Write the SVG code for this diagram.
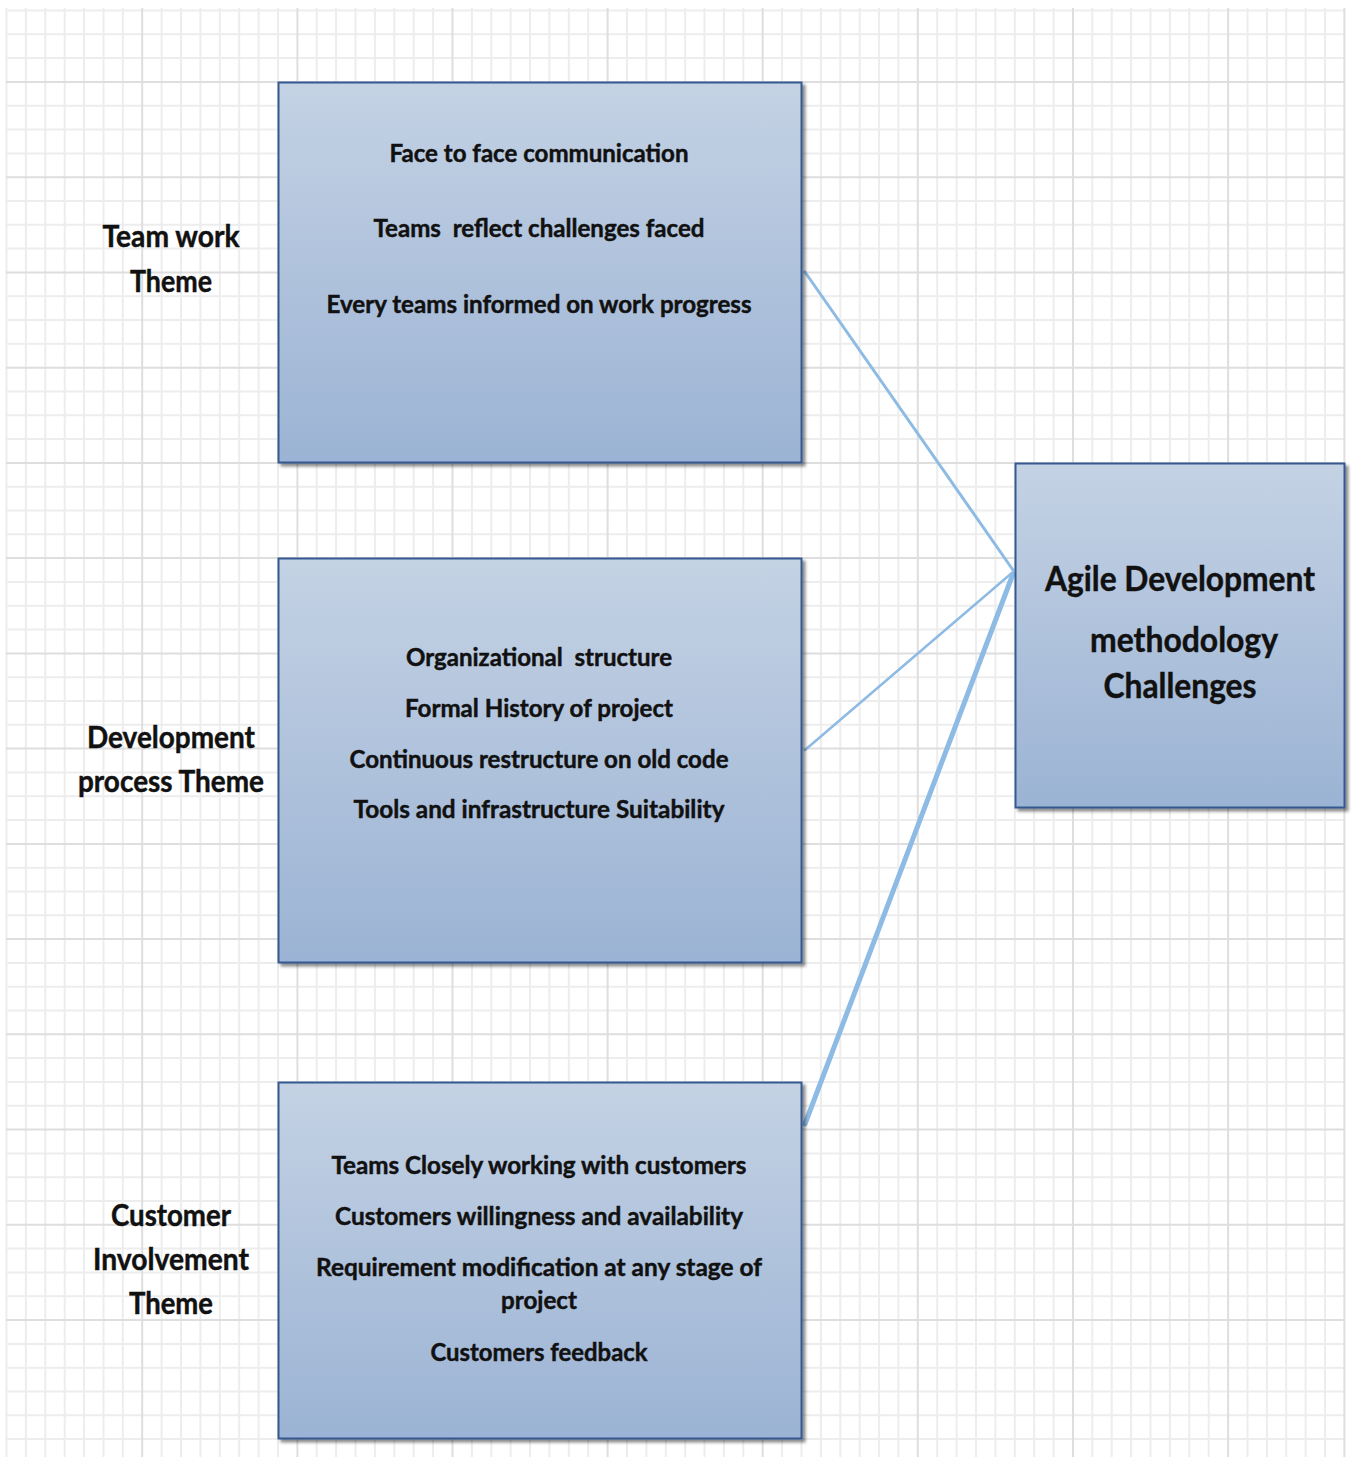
<svg xmlns="http://www.w3.org/2000/svg" width="1352" height="1457" viewBox="0 0 1352 1457">
<defs>
<linearGradient id="boxfill" x1="0" y1="0" x2="0" y2="1">
<stop offset="0" stop-color="#c4d2e4"/>
<stop offset="1" stop-color="#9bb3d4"/>
</linearGradient>
<filter id="shadow" x="-5%" y="-5%" width="115%" height="115%">
<feDropShadow dx="3" dy="3" stdDeviation="1.5" flood-color="#000" flood-opacity="0.45"/>
</filter>
</defs>
<style>
.minor{stroke:#ededed;stroke-width:2;fill:none}
.major{stroke:#dedede;stroke-width:2;fill:none}
.box{fill:url(#boxfill);stroke:#34598f;stroke-width:2;filter:url(#shadow)}
.conn{stroke:#8ebbe4;fill:none;stroke-linecap:round}
text{font-family:Lato,"Liberation Sans",sans-serif;font-weight:bold;fill:#111;stroke:#111;stroke-width:0.45;text-anchor:middle}
.t{font-size:24px}
.lbl{font-size:30px}
.big{font-size:35px}
</style>
<rect width="1352" height="1457" fill="#fff"/>
<g id="grid">
<path class="minor" d="M6.5 8V1457M25.9 8V1457M45.3 8V1457M64.7 8V1457M84.1 8V1457M103.5 8V1457M122.8 8V1457M161.6 8V1457M181 8V1457M200.4 8V1457M219.8 8V1457M239.2 8V1457M258.6 8V1457M278 8V1457M316.7 8V1457M336.1 8V1457M355.5 8V1457M374.9 8V1457M394.3 8V1457M413.7 8V1457M433.1 8V1457M471.9 8V1457M491.3 8V1457M510.6 8V1457M530 8V1457M549.4 8V1457M568.8 8V1457M588.2 8V1457M627 8V1457M646.4 8V1457M665.8 8V1457M685.2 8V1457M704.5 8V1457M723.9 8V1457M743.3 8V1457M782.1 8V1457M801.5 8V1457M820.9 8V1457M840.3 8V1457M859.7 8V1457M879.1 8V1457M898.4 8V1457M937.2 8V1457M956.6 8V1457M976 8V1457M995.4 8V1457M1014.8 8V1457M1034.2 8V1457M1053.6 8V1457M1092.3 8V1457M1111.7 8V1457M1131.1 8V1457M1150.5 8V1457M1169.9 8V1457M1189.3 8V1457M1208.7 8V1457M1247.5 8V1457M1266.9 8V1457M1286.2 8V1457M1305.6 8V1457M1325 8V1457"/>
<path class="minor" d="M6 10.5H1345M6 34.3H1345M6 58.1H1345M6 105.7H1345M6 129.6H1345M6 153.4H1345M6 201H1345M6 224.8H1345M6 248.6H1345M6 296.2H1345M6 320H1345M6 343.8H1345M6 391.5H1345M6 415.3H1345M6 439.1H1345M6 486.7H1345M6 510.5H1345M6 534.3H1345M6 581.9H1345M6 605.8H1345M6 629.6H1345M6 677.2H1345M6 701H1345M6 724.8H1345M6 772.4H1345M6 796.2H1345M6 820H1345M6 867.7H1345M6 891.5H1345M6 915.3H1345M6 962.9H1345M6 986.7H1345M6 1010.5H1345M6 1058.1H1345M6 1082H1345M6 1105.8H1345M6 1153.4H1345M6 1177.2H1345M6 1201H1345M6 1248.6H1345M6 1272.4H1345M6 1296.2H1345M6 1343.9H1345M6 1367.7H1345M6 1391.5H1345M6 1415.3H1345M6 1439.1H1345"/>
<path class="major" d="M142.2 8V1457M297.4 8V1457M452.5 8V1457M607.6 8V1457M762.7 8V1457M917.8 8V1457M1073 8V1457M1228.1 8V1457M1344.4 8V1457M6 81.9H1345M6 177.2H1345M6 272.4H1345M6 367.7H1345M6 462.9H1345M6 558.1H1345M6 653.4H1345M6 748.6H1345M6 843.9H1345M6 939.1H1345M6 1034.3H1345M6 1129.6H1345M6 1224.8H1345M6 1320.1H1345"/>
</g>
<g id="connectors">
<path class="conn" stroke-width="3" d="M805 272L1013 570"/>
<path class="conn" stroke-width="2.5" d="M805 750L1013 572"/>
<path class="conn" stroke-width="5" d="M805 1124L1013 574"/>
</g>
<g id="team-work-label">
<text class="lbl" x="171" y="247" textLength="137" lengthAdjust="spacingAndGlyphs">Team work</text>
<text class="lbl" x="171" y="292" textLength="82" lengthAdjust="spacingAndGlyphs">Theme</text>
</g>
<g id="team-work-box">
<rect class="box" x="278.5" y="82.5" width="523" height="380"/>
<text class="t" x="539" y="162" textLength="299" lengthAdjust="spacingAndGlyphs">Face to face communication</text>
<text class="t" x="539" y="237" textLength="331" lengthAdjust="spacingAndGlyphs">Teams&#160; reflect challenges faced</text>
<text class="t" x="539" y="313" textLength="425" lengthAdjust="spacingAndGlyphs">Every teams informed on work progress</text>
</g>
<g id="development-label">
<text class="lbl" x="171" y="748" textLength="168" lengthAdjust="spacingAndGlyphs">Development</text>
<text class="lbl" x="171" y="792" textLength="186" lengthAdjust="spacingAndGlyphs">process Theme</text>
</g>
<g id="development-box">
<rect class="box" x="278.5" y="558.5" width="523" height="404"/>
<text class="t" x="539" y="666" textLength="266" lengthAdjust="spacingAndGlyphs">Organizational&#160; structure</text>
<text class="t" x="539" y="717" textLength="268" lengthAdjust="spacingAndGlyphs">Formal History of project</text>
<text class="t" x="539" y="768" textLength="379" lengthAdjust="spacingAndGlyphs">Continuous restructure on old code</text>
<text class="t" x="539" y="818" textLength="371" lengthAdjust="spacingAndGlyphs">Tools and infrastructure Suitability</text>
</g>
<g id="customer-label">
<text class="lbl" x="171" y="1226" textLength="120" lengthAdjust="spacingAndGlyphs">Customer</text>
<text class="lbl" x="171" y="1270" textLength="156" lengthAdjust="spacingAndGlyphs">Involvement</text>
<text class="lbl" x="171" y="1314" textLength="84" lengthAdjust="spacingAndGlyphs">Theme</text>
</g>
<g id="customer-box">
<rect class="box" x="278.5" y="1082.5" width="523" height="356"/>
<text class="t" x="539" y="1174" textLength="415" lengthAdjust="spacingAndGlyphs">Teams Closely working with customers</text>
<text class="t" x="539" y="1225" textLength="408" lengthAdjust="spacingAndGlyphs">Customers willingness and availability</text>
<text class="t" x="539" y="1276" textLength="446" lengthAdjust="spacingAndGlyphs">Requirement modification at any stage of</text>
<text class="t" x="539" y="1309" textLength="76" lengthAdjust="spacingAndGlyphs">project</text>
<text class="t" x="539" y="1361" textLength="217" lengthAdjust="spacingAndGlyphs">Customers feedback</text>
</g>
<g id="agile-box">
<rect class="box" x="1015.5" y="463.5" width="329" height="344"/>
<text class="big" x="1180" y="591" textLength="270" lengthAdjust="spacingAndGlyphs">Agile Development</text>
<text class="big" x="1184" y="652" textLength="188" lengthAdjust="spacingAndGlyphs">methodology</text>
<text class="big" x="1180" y="698" textLength="153" lengthAdjust="spacingAndGlyphs">Challenges</text>
</g>
</svg>
